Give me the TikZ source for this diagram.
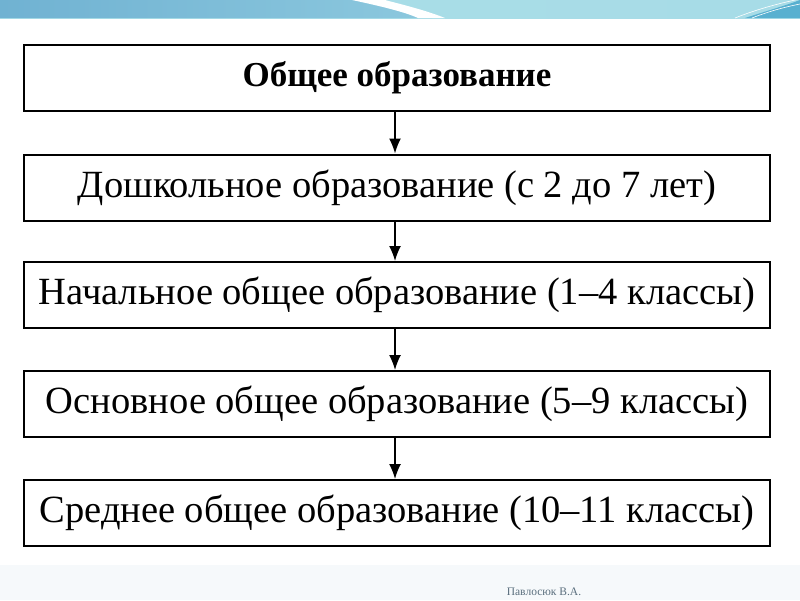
\documentclass[tikz,border=0pt]{standalone}
\usepackage{fontspec}
\setmainfont{Liberation Serif}
\usetikzlibrary{arrows.meta}
\definecolor{bandL}{RGB}{112,178,210}
\definecolor{bandM}{RGB}{140,200,222}
\definecolor{bandR}{RGB}{170,222,232}
\definecolor{bandC}{RGB}{88,176,208}
\definecolor{footbg}{RGB}{246,249,251}
\definecolor{authc}{RGB}{90,110,125}
\begin{document}
\begin{tikzpicture}[x=1pt,y=-1pt,
  stage/.style={draw=black, line width=2pt, minimum width=746pt, minimum height=66pt,
    inner sep=0pt, font=\fontsize{38.5}{42}\selectfont},
  headbox/.style={stage, font=\fontsize{35}{38}\selectfont\bfseries},
  link/.style={-{Latex[width=12pt,length=15pt]}, line width=1.5pt}]
\useasboundingbox (0,0) rectangle (800,600);
\fill[white] (0,0) rectangle (800,600);
% footer band
\fill[footbg] (0,565) rectangle (800,600);
% top band
\shade[left color=bandR, right color=bandR!90!bandM] (0,0) rectangle (800,18);
\shade[left color=bandL, right color=bandM] (0,0) -- (370,0)
  .. controls (395,6) and (415,12) .. (432,18) -- (0,18) -- cycle;
\fill[white] (352,0) .. controls (380,6) and (405,12) .. (418,18) -- (445,18)
  .. controls (425,10) and (400,4) .. (385,0) -- cycle;
\fill[bandC] (745,18) .. controls (770,10) and (790,4) .. (800,0) -- (800,18) -- cycle;
\draw[white, line width=0.6pt] (735,18) .. controls (760,8) and (785,2) .. (800,-1);
\draw[white, line width=0.6pt] (752,18) .. controls (772,10) and (790,6) .. (800,4);
% boxes
\node[headbox] (n1) at (397,78) {Общее образование};
\node[stage] (n2) at (397,187.5) {Дошкольное образование (с 2 до 7 лет)};
\node[stage] (n3) at (397,295) {Начальное общее образование (1--4 классы)};
\node[stage] (n4) at (397,404) {Основное общее образование (5--9 классы)};
\node[stage] (n5) at (397,513) {Среднее общее образование (10--11 классы)};
% arrows
\draw[link] ([xshift=-2pt]n1.south) -- ([xshift=-2pt]n2.north);
\draw[link] ([xshift=-2pt]n2.south) -- ([xshift=-2pt]n3.north);
\draw[link] ([xshift=-2pt]n3.south) -- ([xshift=-2pt]n4.north);
\draw[link] ([xshift=-2pt]n4.south) -- ([xshift=-2pt]n5.north);
% author
\node[font=\fontsize{11.5}{12}\selectfont, text=authc] (author) at (544,592) {Павлосюк В.А.};
\end{tikzpicture}
\end{document}
